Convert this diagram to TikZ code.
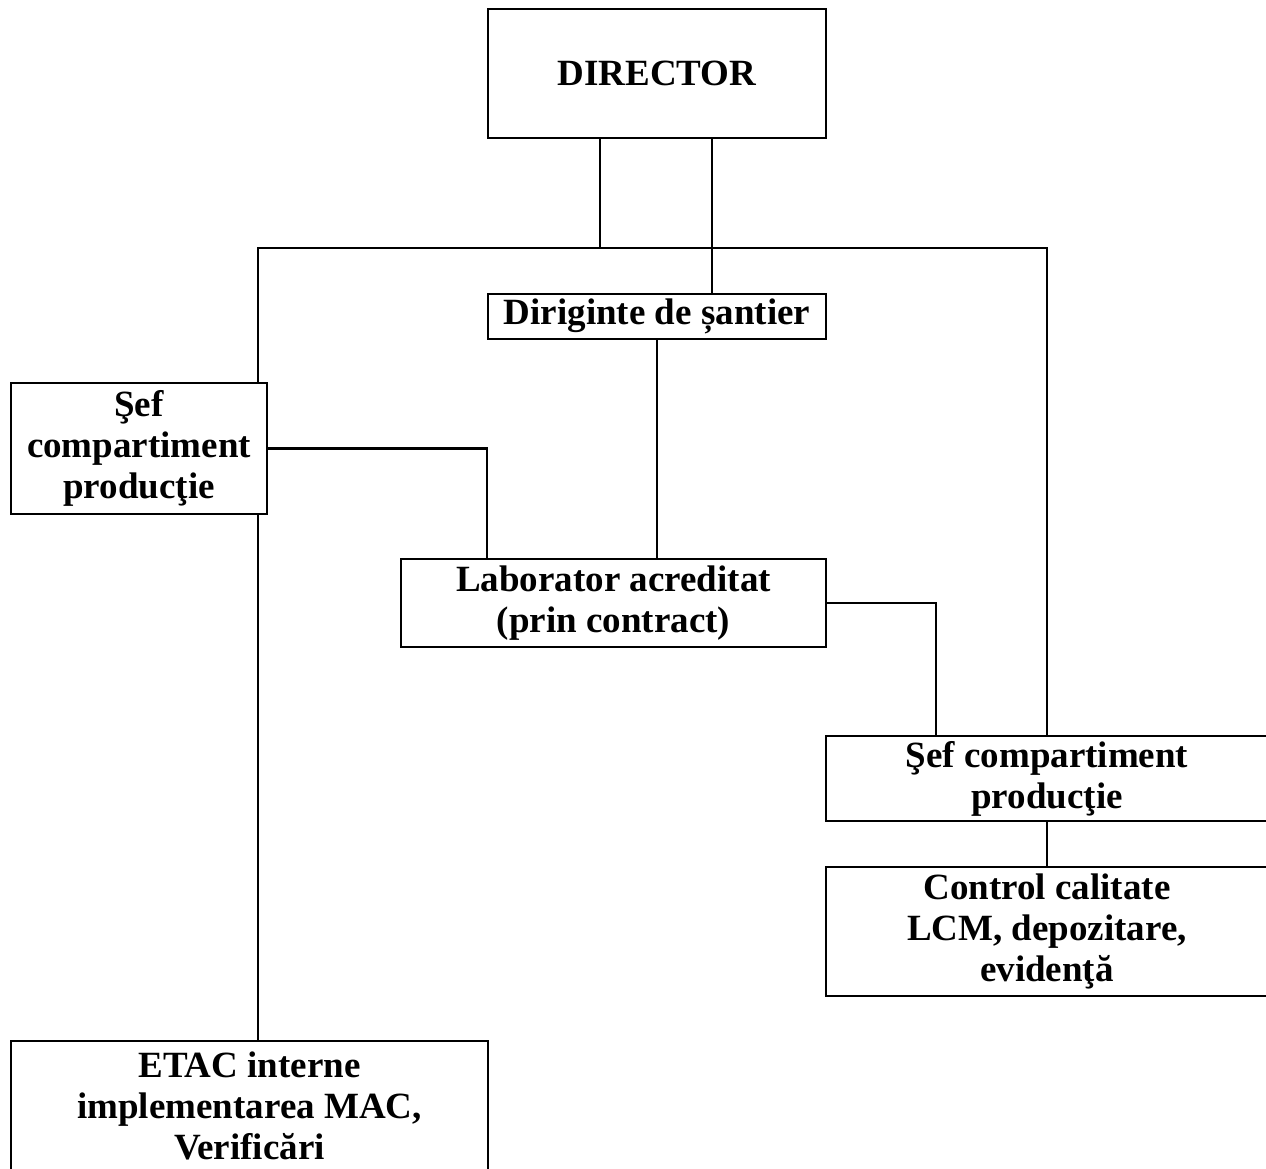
\documentclass[tikz,border=0pt]{standalone}
\usepackage{fontspec}
\setmainfont{Liberation Serif}
\begin{document}
\begin{tikzpicture}[x=1pt,y=-1pt,
	every node/.style={align=center,font=\bfseries\fontsize{37}{41}\selectfont},
	box/.style={draw,line width=2.4pt,inner sep=2pt},
	conn/.style={line width=2.2pt}]
	\useasboundingbox (0,0) rectangle (1266,1168);
	% boites
	\node[box,minimum width=338,minimum height=129] (dir) at (657,73.5) {DIRECTOR};
	\node[box,minimum width=338,minimum height=45] (dirig) at (657,316.5) {Diriginte de șantier};
	\node[box,minimum width=256,minimum height=131] (sefA) at (139,448.5) {Şef\\ compartiment\\ producţie};
	\node[box,minimum width=425,minimum height=88] (lab) at (613.5,603) {Laborator acreditat\\ (prin contract)};
	\node[box,minimum width=442,minimum height=85] (sefB) at (1047,778.5) {Şef compartiment\\ producţie};
	\node[box,minimum width=442,minimum height=129] (ctrl) at (1047,931.5) {Control calitate\\ LCM, depozitare,\\ evidenţă};
	\node[box,minimum width=477,minimum height=129] (etac) at (249.5,1105.5) {ETAC interne\\ implementarea MAC,\\ Verificări};
	% points de passage
	\coordinate (busL) at (258,248);
	\coordinate (busM) at (600,248);
	\coordinate (busR) at (1047,248);
	\coordinate (dirB) at (712,248);
	\coordinate (labR) at (936,602);
	% liaisons
	\draw[conn] (dir.south -| busM) -- (busM);
	\draw[conn] (sefA.north -| busL) -- (busL) -- (busR) -- (sefB.north);
	\draw[conn] (dir.south -| dirB) -- (dirig.north -| dirB);
	\draw[conn] (dirig.south) -- (lab.north -| dirig.south);
	\draw[conn] (sefA.east) -| (lab.north -| dirig.west);
	\draw[conn] (lab.east) -| (sefB.north -| labR);
	\draw[conn] (sefB.south) -- (ctrl.north);
	\draw[conn] (sefA.south -| busL) -- (etac.north -| busL);
\end{tikzpicture}
\end{document}
